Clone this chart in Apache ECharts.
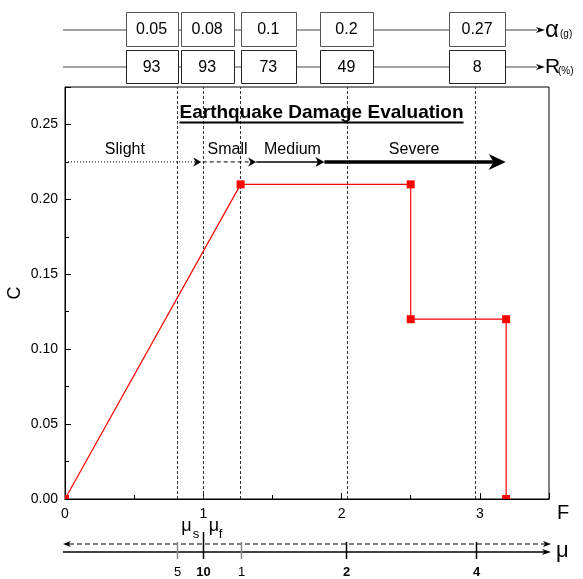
<!DOCTYPE html>
<html><head><meta charset="utf-8">
<script src="https://cdn.jsdelivr.net/npm/echarts@6/dist/echarts.min.js"></script>
<style>html,body{margin:0;padding:0;background:#fff}#c{width:583px;height:579px}</style>
</head><body><div id="c"></div>
<script>
// ---------- data ----------
const curveF = [0, 1.27, 2.5, 2.5, 3.19, 3.19];
const curveC = [0, 0.21, 0.21, 0.12, 0.12, 0];
const thresholdsF = [0.807, 0.996, 1.27, 2.035, 2.973];
const muLabels = ['5', '10', '1', '2', '4'];
const muBold = [false, true, false, true, true];
const alphaLabels = ['0.05', '0.08', '0.1', '0.2', '0.27'];
const rLabels = ['93', '93', '73', '49', '8'];
const damageNames = ['Slight', 'Small', 'Medium', 'Severe'];
const damageStartF = [0, 0.996, 1.383, 1.876];
const damageEndF = [0.986, 1.383, 1.876, 3.187];
const damageLevelC = 0.225;
const titleText = 'Earthquake Damage Evaluation';

// ---------- layout (positions / sizes) ----------
const damageLabelF = [0.433, 1.176, 1.645, 2.525];
const damageLabelC = 0.233;
const boxAnchorF = [0.626, 1.028, 1.47, 2.035, 2.98];
const boxWidth = [52, 53, 55, 53, 56];
const FONT = '"Liberation Sans", Arial, sans-serif';

const chart = echarts.init(document.getElementById('c'), null, {renderer: 'canvas'});

const option = {
  animation: false,
  backgroundColor: '#fff',
  grid: {left: 65, right: 34, top: 87, bottom: 80, show: true, borderColor: '#000', borderWidth: 1,
    backgroundColor: 'transparent', containLabel: false, outerBoundsMode: 'none'},
  xAxis: {
    type: 'value', min: 0, max: 3.5, interval: 1,
    axisLine: {lineStyle: {color: '#000', width: 1}},
    axisTick: {inside: true, length: 6, lineStyle: {color: '#000'}},
    minorTick: {show: true, splitNumber: 2, length: 4, lineStyle: {color: '#000'}},
    splitLine: {show: false},
    axisLabel: {color: '#000', fontSize: 14, fontFamily: FONT, margin: 8, showMaxLabel: false,
      formatter: v => String(Math.round(v))}
  },
  yAxis: {
    type: 'value', min: 0, max: 0.275, interval: 0.05,
    axisLine: {show: true, lineStyle: {color: '#000', width: 1}},
    axisTick: {show: true, inside: true, length: 6, lineStyle: {color: '#000'}},
    minorTick: {show: true, splitNumber: 2, length: 4, lineStyle: {color: '#000'}},
    splitLine: {show: false},
    axisLabel: {color: '#000', fontSize: 14, fontFamily: FONT, margin: 7, showMaxLabel: false,
      formatter: v => v.toFixed(2)}
  },
  series: [
    {
      type: 'line', data: curveF.map((f, i) => [f, curveC[i]]),
      symbol: 'none', lineStyle: {color: '#ff0000', width: 1.2}, z: 3,
      markLine: {
        silent: true, symbol: 'none', label: {show: false},
        lineStyle: {color: '#333', width: 1, type: [3, 2]},
        data: thresholdsF.map(v => ({xAxis: v})),
        z: 1
      }
    },
    {
      type: 'custom', clip: true, z: 4,
      data: curveF.map((f, i) => [f, curveC[i]]),
      encode: {x: 0, y: 1},
      renderItem: (params, api) => {
        const p = api.coord([api.value(0), api.value(1)]);
        return {type: 'rect', shape: {x: p[0] - 4, y: p[1] - 4, width: 8, height: 8}, style: {fill: '#ff0000'}};
      }
    }
  ]
};
chart.setOption(option);

const X = f => chart.convertToPixel({gridIndex: 0}, [f, 0])[0];
const Y = c => chart.convertToPixel({gridIndex: 0}, [0, c])[1];

const G = [];
let zc = 10;
function line(x1, y1, x2, y2, stroke, lw, dash) {
  G.push({type: 'line', silent: true, z: 100, z2: zc++, shape: {x1, y1, x2, y2},
    style: {stroke, lineWidth: lw, lineDash: dash || null}});
}
function head(x, y, dir, L, W, fill) {
  G.push({type: 'polygon', silent: true, z: 100, z2: zc++,
    shape: {points: [[x, y], [x - dir * L, y - W / 2], [x - dir * L * 0.72, y], [x - dir * L, y + W / 2]]},
    style: {fill}});
}
function text(x, y, str, size, opts) {
  opts = opts || {};
  G.push({type: 'text', silent: true, z: 100, z2: zc++, x, y, rotation: opts.rotation || 0,
    style: {text: str, fill: opts.fill || '#000', font: (opts.bold ? 'bold ' : '') + size + 'px ' + FONT,
      align: opts.align || 'center', verticalAlign: opts.va || 'middle'}});
}
function rect(x, y, w, h, stroke) {
  G.push({type: 'rect', silent: true, z: 100, z2: zc++, shape: {x, y, width: w, height: h},
    style: {fill: '#fff', stroke, lineWidth: 1}});
}

// ---- axis names ----
text(15, Y(0.1375), 'C', 18, {rotation: Math.PI / 2});
text(557, 513, 'F', 20, {align: 'left'});

// ---- title with underline ----
const cv = document.createElement('canvas').getContext('2d');
cv.font = 'bold 19px ' + FONT;
const tw = cv.measureText(titleText).width;
const tcx = X(1.855), tcy = 112.5;
text(tcx, tcy, titleText, 19, {bold: true});
line(tcx - tw / 2, 122.5, tcx + tw / 2, 122.5, '#000', 1.8);

// ---- damage arrows ----
const yD = Y(damageLevelC);
const dStyles = [
  {lw: 1, dash: [1, 2], L: 8, W: 9},
  {lw: 1, dash: [4, 3], L: 8, W: 9},
  {lw: 1.5, dash: null, L: 9, W: 10},
  {lw: 3.5, dash: null, L: 17, W: 16}
];
damageNames.forEach((n, i) => {
  const s = dStyles[i];
  const x1 = X(damageStartF[i]), x2 = X(damageEndF[i]);
  line(x1, yD, x2 - s.L * 0.6, yD, '#000', s.lw, s.dash);
  head(x2, yD, 1, s.L, s.W, '#000');
  text(X(damageLabelF[i]), Y(damageLabelC), n, 16);
});

// ---- top rows (alpha and R) ----
const rows = [
  {labels: alphaLabels, yLine: 30, top: 12, h: 34, stroke: '#555', sym: 'α', sub: '(g)', symSize: 24},
  {labels: rLabels, yLine: 67, top: 50, h: 33, stroke: '#222', sym: 'R', sub: '(%)', symSize: 21}
];
rows.forEach(r => {
  line(X(0) - 2, r.yLine, 537, r.yLine, '#444', 1);
  head(545, r.yLine, 1, 9, 6, '#000');
  r.labels.forEach((lab, i) => {
    const cx = X(boxAnchorF[i]);
    rect(Math.round(cx - boxWidth[i] / 2) + 0.5, r.top + 0.5, boxWidth[i], r.h, r.stroke);
    text(cx, r.top + r.h / 2 + 1, lab, 16);
  });
  text(545, r.yLine, r.sym, r.symSize, {align: 'left'});
  text(r.sym === 'α' ? 560 : 558, r.yLine + 4, r.sub, 10, {align: 'left'});
});

// ---- mu axis ----
const x0 = X(0) - 2, xEnd = 551;
line(x0, 552, xEnd - 6, 552, '#000', 1.5);
head(xEnd, 552, 1, 9, 6, '#000');
line(x0 + 6, 544, xEnd - 6, 544, '#000', 1, [5, 3]);
head(x0, 544, -1, 8, 6, '#000');
head(xEnd, 544, 1, 8, 6, '#000');
thresholdsF.forEach((f, i) => {
  const x = Math.round(X(f)) + 0.5;
  const bold = muBold[i];
  line(x, i === 1 ? 532 : 542, x, 559, bold ? '#000' : '#888', 1.5);
  text(x, 572, muLabels[i], 13, {bold});
});
const x10 = X(thresholdsF[1]);
text(x10 - 11, 535, 'μ', 18, {align: 'right', va: 'bottom'});
text(x10 - 10, 541, 's', 13, {align: 'left', va: 'bottom'});
text(x10 + 6, 535, 'μ', 18, {align: 'left', va: 'bottom'});
text(x10 + 16, 541, 'f', 13, {align: 'left', va: 'bottom'});
text(556, 551, 'μ', 22, {align: 'left'});

chart.setOption({graphic: {elements: G}});
</script>
</body></html>
